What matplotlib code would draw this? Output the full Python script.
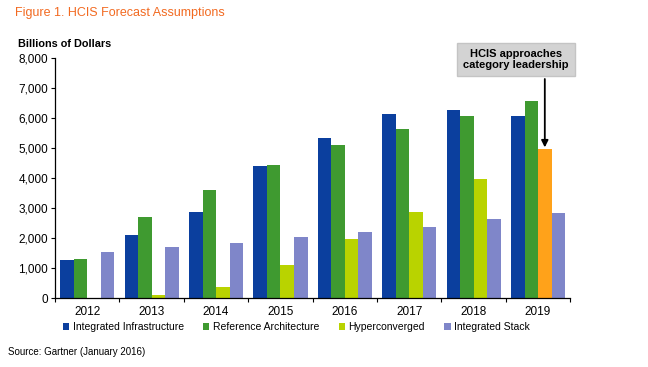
import numpy as np
import matplotlib.pyplot as plt
from matplotlib.patches import Patch

plt.rcParams['font.family'] = ['Liberation Sans', 'DejaVu Sans']

years = ["2012", "2013", "2014", "2015", "2016", "2017", "2018", "2019"]
series_names = ["Integrated Infrastructure", "Reference Architecture",
                "Hyperconverged", "Integrated Stack"]
integrated_infra = [1270, 2100, 2870, 4410, 5320, 6130, 6250, 6080]
reference_arch = [1290, 2690, 3600, 4430, 5100, 5620, 6080, 6560]
hyperconverged = [0, 100, 360, 1100, 1960, 2860, 3980, 4970]
integrated_stack = [1530, 1690, 1820, 2030, 2190, 2380, 2630, 2840]
y_ticks = [0, 1000, 2000, 3000, 4000, 5000, 6000, 7000, 8000]

colors = ["#0b3f9e", "#3f9a30", "#b9d300", "#7f86c9"]
highlight = "#ffa21a"

fig = plt.figure(figsize=(6.48, 3.67), dpi=100)
ax = fig.add_axes([0.085, 0.188, 0.795, 0.654])

x = np.arange(len(years))
w = 0.21
data = [integrated_infra, reference_arch, hyperconverged, integrated_stack]
for i, (vals, c) in enumerate(zip(data, colors)):
    bar_colors = [c] * len(vals)
    if i == 2:
        bar_colors[-1] = highlight  # 2019 hyperconverged bar is highlighted
    ax.bar(x + (i - 1.5) * w, vals, width=w, color=bar_colors, edgecolor="none")

ax.set_xlim(-0.5, len(years) - 0.5)
ax.set_ylim(0, 8000)
ax.set_yticks(y_ticks)
ax.set_yticklabels([f"{v:,}" for v in y_ticks], fontsize=8.5)
ax.set_xticks(x)
ax.set_xticklabels(years, fontsize=8.5)
ax.tick_params(axis="x", length=0, pad=6)
ax.set_xticks(np.arange(len(years) + 1) - 0.5, minor=True)
ax.tick_params(axis="x", which="minor", length=3, width=0.8)
ax.tick_params(axis="y", length=3, width=0.8, pad=2)
for s in ["top", "right"]:
    ax.spines[s].set_visible(False)
ax.spines["left"].set_linewidth(0.9)
ax.spines["bottom"].set_linewidth(0.9)

# annotation box and arrow pointing at the 2019 hyperconverged bar
hx = x[-1] + 0.5 * w
ax.text(6.66, 7950, "HCIS approaches\ncategory leadership",
        ha="center", va="center", fontsize=8, fontweight="bold", linespacing=1.15,
        bbox=dict(boxstyle="square,pad=0.55", fc="#d3d3d3", ec="#c4c4c4"),
        clip_on=False)
ax.annotate("", xy=(hx, hyperconverged[-1] + 50), xytext=(hx, 7300),
            arrowprops=dict(arrowstyle="-|>", color="black", lw=1.3,
                            mutation_scale=10, shrinkA=0, shrinkB=0),
            annotation_clip=False)

handles = [Patch(facecolor=c, edgecolor="none") for c in colors]
fig.legend(handles, series_names, loc="center left", bbox_to_anchor=(0.097, 0.109),
           ncol=4, frameon=False, fontsize=7.5, handlelength=0.6, handleheight=0.6,
           handletextpad=0.35, columnspacing=1.85, borderaxespad=0, borderpad=0)

fig.text(0.023, 0.965, "Figure 1. HCIS Forecast Assumptions", color="#f26a21",
         fontsize=9, va="center")
fig.text(0.028, 0.881, "Billions of Dollars", fontsize=7.8, fontweight="bold",
         va="center")
fig.text(0.012, 0.041, "Source: Gartner (January 2016)", fontsize=7, va="center")

fig.savefig("out.png", dpi=100)
